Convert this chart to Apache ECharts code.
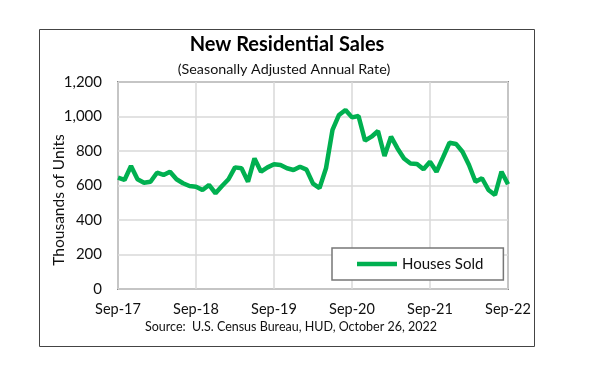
<!DOCTYPE html>
<html>
<head>
<meta charset="utf-8">
<script src="https://cdn.jsdelivr.net/npm/echarts@6/dist/echarts.min.js"></script>
<style>html,body{margin:0;padding:0;background:#fff;}#c{width:600px;height:386px;}</style>
</head>
<body>
<div id="c"></div>
<script>
// Monthly new residential sales, SAAR, thousands of units, Sep-17 .. Sep-22
var startYear = 2017;
var monthNames = ['Jan','Feb','Mar','Apr','May','Jun','Jul','Aug','Sep','Oct','Nov','Dec'];
var housesSold = [
  645, 632, 713, 636,
  616, 622, 674, 661, 680, 636, 613, 597, 593, 574, 603, 555,
  597, 636, 705, 700, 622, 757, 680, 705, 723, 719, 700, 690,
  709, 692, 611, 585, 700, 922, 1009, 1038, 995, 1003, 860, 883,
  916, 771, 883, 815, 757, 728, 725, 694, 738, 680, 763, 848,
  841, 796, 719, 622, 642, 574, 545, 680, 607
];
var yTicks = [0, 200, 400, 600, 800, 1000, 1200];

var categories = [];
for (var i = 0; i < housesSold.length; i++) {
  var m = (8 + i) % 12;
  var y = startYear + Math.floor((8 + i) / 12);
  categories.push(monthNames[m] + '-' + String(y).slice(2));
}

var chart = echarts.init(document.getElementById('c'), null, {renderer: 'canvas'});
var FONT = 'Lato';
chart.setOption({
  animation: false,
  backgroundColor: '#fff',
  textStyle: {fontFamily: FONT},
  grid: {left: 118, top: 82, right: 92, bottom: 97, show: true, borderColor: '#8a8a8a', borderWidth: 2, containLabel: false},
  graphic: [
    {type: 'rect', shape: {x: 39.5, y: 29.5, width: 495, height: 317}, style: {fill: 'none', stroke: '#444', lineWidth: 1}, z: -10},
    {type: 'text', x: 287, y: 35, style: {text: 'New Residential Sales', font: 'bold 20px Lato', fill: '#000', textAlign: 'center'}},
    {type: 'text', x: 284, y: 62, style: {text: '(Seasonally Adjusted Annual Rate)', font: '14.3px Lato', fill: '#111', textAlign: 'center'}},
    {type: 'text', x: 291, y: 320, style: {text: 'Source:  U.S. Census Bureau, HUD, October 26, 2022', font: '12.5px Lato', fill: '#111', textAlign: 'center'}},
    {type: 'text', x: 59, y: 200, rotation: Math.PI / 2, style: {text: 'Thousands of Units', font: '15.5px Lato', fill: '#111', textAlign: 'center', textVerticalAlign: 'middle'}}
  ],
  legend: {
    show: true,
    left: 332, top: 248,
    padding: [8, 20, 8, 25],
    backgroundColor: '#fff',
    borderColor: '#777',
    borderWidth: 1.5,
    icon: 'rect',
    itemWidth: 40, itemHeight: 4.5, itemGap: 4,
    textStyle: {fontFamily: FONT, fontSize: 15, color: '#111', lineHeight: 16},
    data: ['Houses Sold']
  },
  xAxis: {
    type: 'category',
    data: categories,
    boundaryGap: false,
    axisLine: {show: false},
    axisTick: {show: false},
    axisLabel: {interval: 11, margin: 13, fontFamily: FONT, fontSize: 14.5, color: '#111'},
    splitLine: {show: true, interval: 11, lineStyle: {color: '#d9d9d9', width: 1.5}}
  },
  yAxis: {
    type: 'value',
    min: yTicks[0], max: yTicks[yTicks.length - 1], interval: 200,
    axisLine: {show: false},
    axisTick: {show: false},
    axisLabel: {margin: 16, fontFamily: FONT, fontSize: 15, color: '#111', formatter: function (v) { return v.toLocaleString('en-US'); }},
    splitLine: {show: true, lineStyle: {color: '#d9d9d9', width: 1.5}}
  },
  series: [{
    name: 'Houses Sold',
    type: 'line',
    data: housesSold,
    showSymbol: false,
    symbol: 'none',
    lineStyle: {color: '#00b050', width: 4.5},
    itemStyle: {color: '#00b050'}
  }]
});
</script>
</body>
</html>
